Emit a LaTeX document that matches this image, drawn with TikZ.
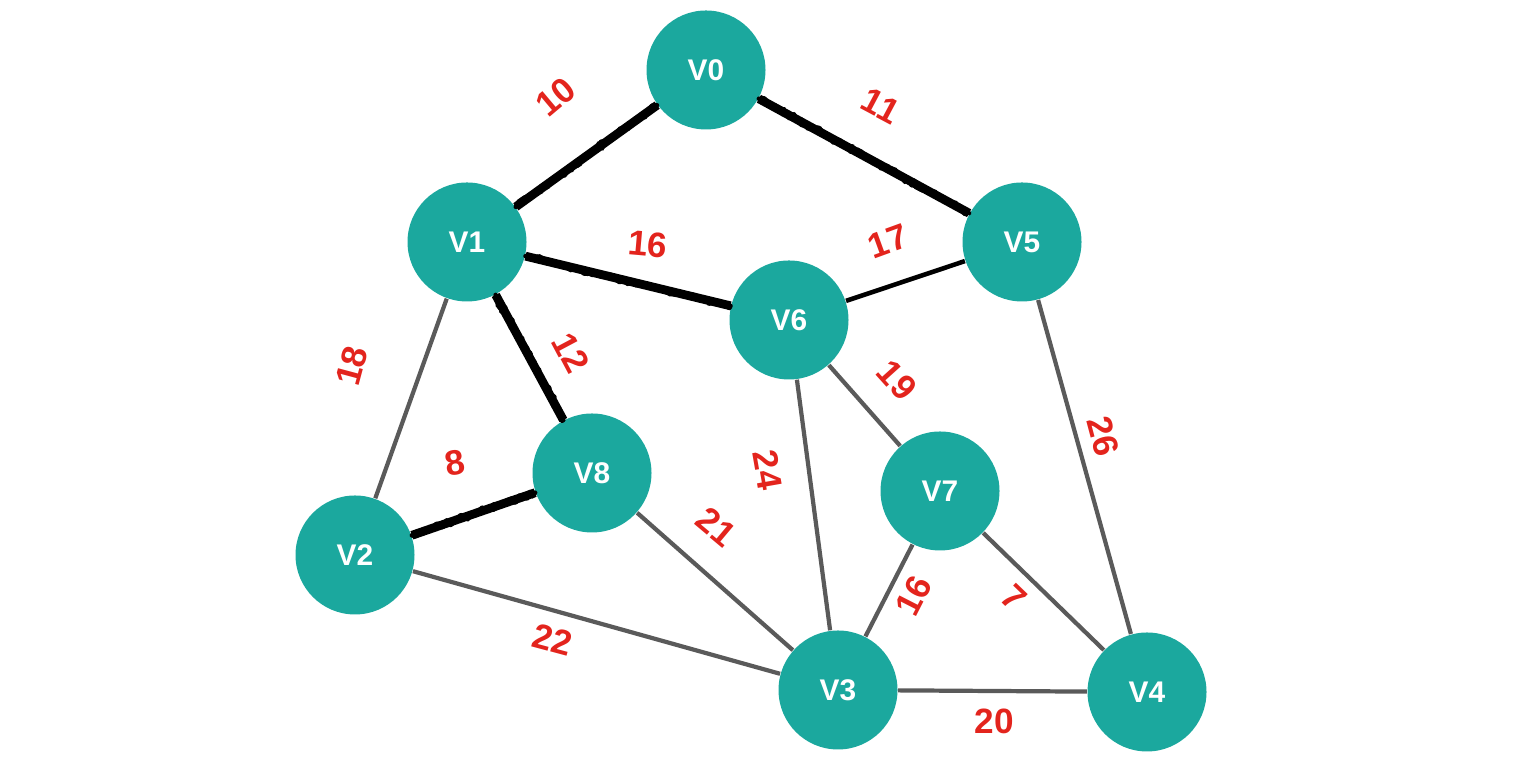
\documentclass[tikz,border=0pt]{standalone}
\usepackage{fontspec}
\setmainfont{Liberation Sans}
\usetikzlibrary{decorations.pathmorphing}
\definecolor{vteal}{HTML}{1BA89E}
\definecolor{wred}{HTML}{E3241D}
\definecolor{egray}{HTML}{5A5A5A}
\begin{document}
\begin{tikzpicture}[
    vertex/.style={circle, fill=vteal, minimum size=1.19cm, inner sep=0pt,
                   text=white, font=\fontsize{8.5}{10}\selectfont\bfseries},
    edge/.style={egray, line width=1.2pt},
    mst/.style={black, line width=2.5pt,
                postaction={draw, line width=1.3pt, line join=round, line cap=round, decorate,
                decoration={random steps, segment length=0.8pt, amplitude=0.9pt}}},
    wt/.style={text=wred, font=\fontsize{10}{12}\selectfont\bfseries, inner sep=0pt}]
    \useasboundingbox (0,0) rectangle (15.3,7.66);
    % vertices
    \node[vertex] (v0) at (7.06, 6.96) {V0};
    \node[vertex] (v1) at (4.67, 5.24) {V1};
    \node[vertex] (v5) at (10.22, 5.24) {V5};
    \node[vertex] (v6) at (7.89, 4.46) {V6};
    \node[vertex] (v8) at (5.92, 2.93) {V8};
    \node[vertex] (v7) at (9.40, 2.75) {V7};
    \node[vertex] (v2) at (3.55, 2.11) {V2};
    \node[vertex] (v3) at (8.38, 0.76) {V3};
    \node[vertex] (v4) at (11.47, 0.74) {V4};
    % edges of the tree
    \draw[mst] (v1) -- (v0);
    \draw[mst] (v0) -- (v5);
    \draw[mst] (v1) -- (v6);
    \draw[mst] (v1) -- (v8);
    \draw[mst] (v2) -- (v8);
    \draw[black, line width=1.3pt] (v6) -- (v5);
    % other edges
    \draw[edge] (v2) -- (v1);
    \draw[edge] (v2) -- (v3);
    \draw[edge] (v8) -- (v3);
    \draw[edge] (v6) -- (v3);
    \draw[edge] (v6) -- (v7);
    \draw[edge] (v7) -- (v3);
    \draw[edge] (v7) -- (v4);
    \draw[edge] (v5) -- (v4);
    \draw[edge] (v3) -- (v4);
    % weights
    \node[wt, rotate=40]  (w10) at (5.56, 6.69) {10};
    \node[wt, rotate=-28] (w11) at (8.81, 6.60) {11};
    \node[wt, rotate=-5]  (w16a) at (6.48, 5.22) {16};
    \node[wt, rotate=20]  (w17) at (8.88, 5.25) {17};
    \node[wt, rotate=75]  (w18) at (3.52, 4.00) {18};
    \node[wt, rotate=-62] (w12) at (5.71, 4.13) {12};
    \node[wt, rotate=10]  (w8) at (4.55, 3.03) {8};
    \node[wt, rotate=-15] (w22) at (5.53, 1.26) {22};
    \node[wt, rotate=-40] (w21) at (7.16, 2.39) {21};
    \node[wt, rotate=-80] (w24) at (7.68, 2.96) {24};
    \node[wt, rotate=-48] (w19) at (8.97, 3.86) {19};
    \node[wt, rotate=-75] (w26) at (11.03, 3.30) {26};
    \node[wt, rotate=63]  (w16b) at (9.14, 1.70) {16};
    \node[wt, rotate=-44] (w7) at (10.14, 1.68) {7};
    \node[wt]             (w20) at (9.94, 0.45) {20};
\end{tikzpicture}
\end{document}
